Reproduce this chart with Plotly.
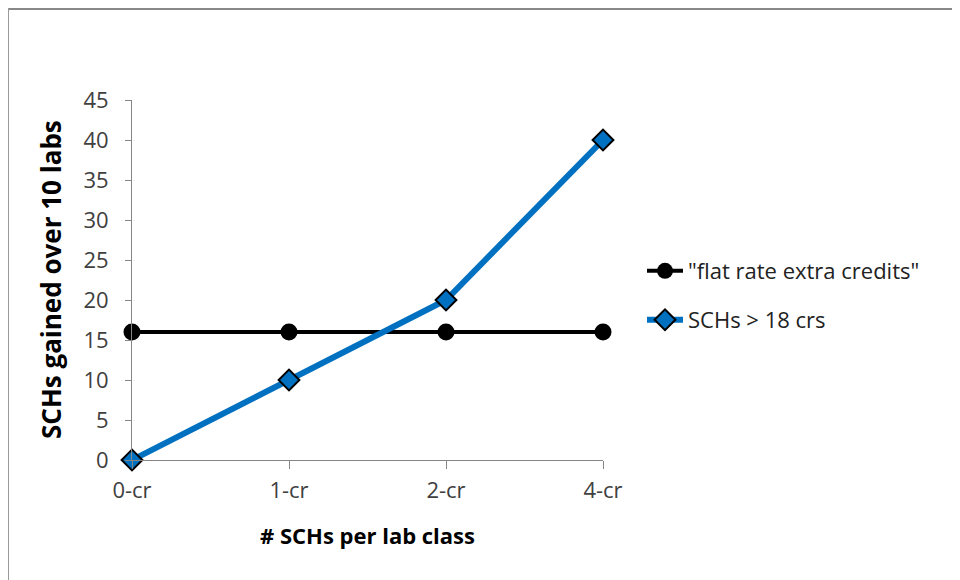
import plotly.graph_objects as go

categories = ["0-cr", "1-cr", "2-cr", "4-cr"]
flat_rate = [16, 16, 16, 16]
schs_over_18 = [0, 10, 20, 40]
y_ticks = [0, 5, 10, 15, 20, 25, 30, 35, 40, 45]

FONT = "Open Sans, Carlito, Calibri, sans-serif"
OFF = 8  # page body margin
W, H = 952, 572
L, R, T, B = 132 - OFF, 603 - OFF, 100 - OFF, 460 - OFF


def px_x(px):
    """page x pixel -> paper fraction"""
    return (px - OFF - L) / (R - L)


def px_y(py):
    """page y pixel -> paper fraction"""
    return (B - (py - OFF)) / (B - T)


fig = go.Figure()
fig.add_trace(go.Scatter(
    x=categories, y=flat_rate, mode="lines+markers",
    name='"flat rate extra credits"',
    line=dict(color="black", width=4),
    marker=dict(symbol="circle", size=17, color="black"),
    cliponaxis=False, legend="legend",
))
fig.add_trace(go.Scatter(
    x=categories, y=schs_over_18, mode="lines+markers",
    name="SCHs > 18 crs",
    line=dict(color="#0070C0", width=6),
    marker=dict(symbol="diamond", size=16, color="#0070C0",
                line=dict(color="black", width=2)),
    cliponaxis=False, legend="legend2",
))

leg_font = dict(size=22, color="#222222", family=FONT)
fig.update_layout(
    width=W, height=H,
    margin=dict(l=L, r=W - R, t=T, b=H - B, pad=0),
    paper_bgcolor="white", plot_bgcolor="white",
    font=dict(family=FONT, size=22, color="#404040"),
    showlegend=True,
    legend=dict(x=px_x(642), y=px_y(271), xanchor="left", yanchor="middle",
                font=leg_font, itemwidth=36, bgcolor="rgba(0,0,0,0)"),
    legend2=dict(x=px_x(642), y=px_y(320), xanchor="left", yanchor="middle",
                 font=leg_font, itemwidth=36, bgcolor="rgba(0,0,0,0)"),
    xaxis=dict(
        type="category", range=[0, 3], showgrid=False, zeroline=False,
        showline=True, linecolor="#868686", linewidth=1,
        ticks="outside", ticklen=8, tickcolor="#868686",
        tickfont=dict(size=22, color="#404040"), ticklabelstandoff=3,
    ),
    yaxis=dict(
        range=[0, 45], tickvals=y_ticks, showgrid=False, zeroline=False,
        showline=True, linecolor="#868686", linewidth=1,
        ticks="outside", ticklen=6, tickcolor="#868686",
        tickfont=dict(size=22, color="#404040"), ticklabelstandoff=12,
    ),
    annotations=[
        dict(text="<b># SCHs per lab class</b>", x=0.5, xref="paper",
             y=px_y(535), yref="paper", showarrow=False,
             font=dict(size=22, color="black", family=FONT),
             xanchor="center", yanchor="middle"),
        dict(text="<b>SCHs gained over 10 labs</b>", x=px_x(51), xref="paper",
             y=0.5, yref="paper", showarrow=False, textangle=-90,
             font=dict(size=26, color="black", family=FONT),
             xanchor="center", yanchor="middle"),
    ],
    shapes=[
        dict(type="line", xref="paper", yref="paper",
             x0=px_x(OFF), x1=px_x(OFF + W), y0=px_y(OFF + 1), y1=px_y(OFF + 1),
             line=dict(color="#888888", width=2)),
        dict(type="line", xref="paper", yref="paper",
             x0=px_x(OFF + 0.5), x1=px_x(OFF + 0.5), y0=px_y(OFF), y1=px_y(OFF + H),
             line=dict(color="#999999", width=1)),
    ],
)

fig.write_html("out.html")
